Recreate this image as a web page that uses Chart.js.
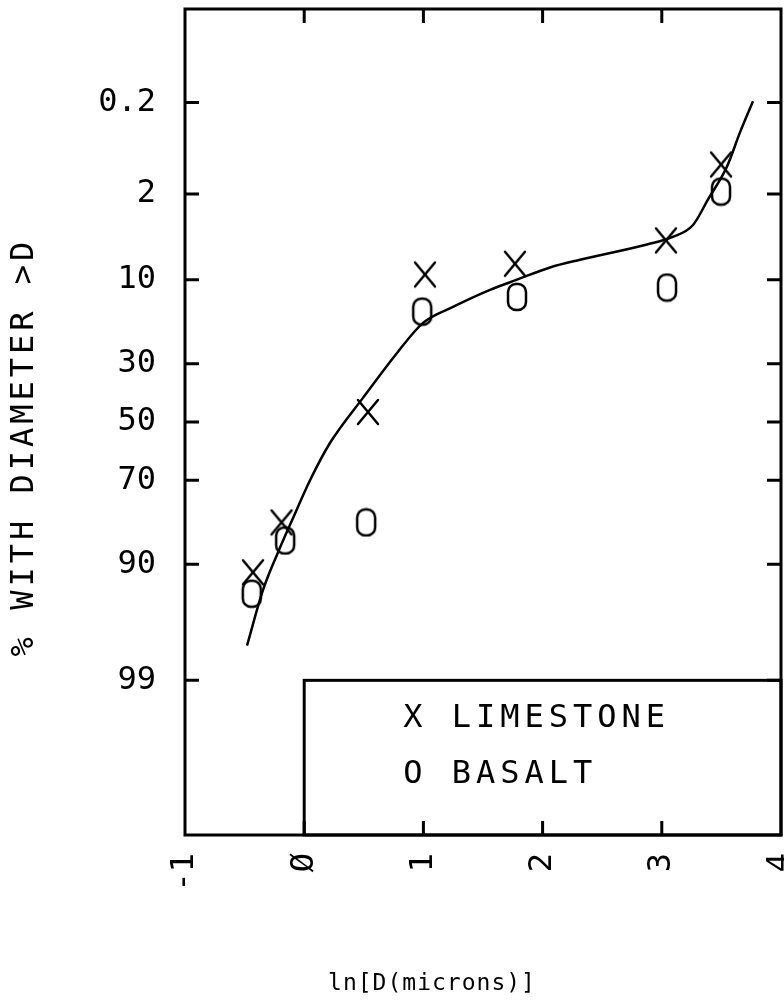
<!DOCTYPE html>
<html>
<head>
<meta charset="utf-8">
<script src="https://cdn.jsdelivr.net/npm/chart.js@4"></script>
<style>
  body { margin: 0; background: #fff; }
  #wrap { width: 784px; height: 1003px; }
</style>
</head>
<body>
<div id="wrap"><canvas id="chart" width="784" height="1003"></canvas></div>
<script>
// values: x = ln(D), y = % with diameter > D
var limeX = [-0.43, -0.19, 0.535, 1.013, 1.768, 3.035, 3.497];
var limeP = [91.2, 81.7, 46.4, 9.2, 7.7, 5.1, 1.02];
var basaltX = [-0.44, -0.16, 0.52, 0.99, 1.785, 3.044, 3.497];
var basaltP = [93.9, 85.7, 81.7, 16.0, 13.0, 11.3, 1.9];

// fitted curve
var curveX = [-0.48, -0.346, -0.22, -0.102, 0.049, 0.216, 0.493, 0.779, 0.997, 1.248, 1.559,
              1.785, 2.062, 2.314, 2.876, 3.086, 3.262, 3.388, 3.547, 3.656, 3.765];
var curveP = [97.8, 93.5, 88.0, 81.2, 70.0, 57.5, 41.4, 26.7, 18.6, 15.0, 11.7,
              10.0, 8.2, 7.2, 5.5, 4.8, 3.8, 2.25, 1.07, 0.455, 0.194];

var xTickVals = [-1, 0, 1, 2, 3, 4];
var xTickLabels = ["-1", "Ø", "1", "2", "3", "4"];
var yTickVals = [0.2, 2, 10, 30, 50, 70, 90, 99];
var yTickLabels = ["0.2", "2", "10", "30", "50", "70", "90", "99"];

var legendLabels = ["X LIMESTONE", "O BASALT"];
var xTitle = "ln[D(microns)]";
var yTitle = "% WITH DIAMETER >D";

var FONT = "'DejaVu Sans Mono', monospace";

// inverse normal cdf (probability axis)
function probit(p){
  var a = [-3.969683028665376e+01, 2.209460984245205e+02, -2.759285104469687e+02, 1.383577518672690e+02, -3.066479806614716e+01, 2.506628277459239e+00];
  var b = [-5.447609879822406e+01, 1.615858368580409e+02, -1.556989798598866e+02, 6.680131188771972e+01, -1.328068155288572e+01];
  var c = [-7.784894002430293e-03, -3.223964580411365e-01, -2.400758277161838e+00, -2.549732539343734e+00, 4.374664141464968e+00, 2.938163982698783e+00];
  var d = [7.784695709041462e-03, 3.224671290700398e-01, 2.445134137142996e+00, 3.754408661907416e+00];
  var pl = 0.02425, q, r;
  if(p < pl){
    q = Math.sqrt(-2*Math.log(p));
    return (((((c[0]*q+c[1])*q+c[2])*q+c[3])*q+c[4])*q+c[5]) / ((((d[0]*q+d[1])*q+d[2])*q+d[3])*q+1);
  }
  if(p <= 1-pl){
    q = p-0.5; r = q*q;
    return (((((a[0]*r+a[1])*r+a[2])*r+a[3])*r+a[4])*r+a[5])*q / (((((b[0]*r+b[1])*r+b[2])*r+b[3])*r+b[4])*r+1);
  }
  q = Math.sqrt(-2*Math.log(1-p));
  return -(((((c[0]*q+c[1])*q+c[2])*q+c[3])*q+c[4])*q+c[5]) / ((((d[0]*q+d[1])*q+d[2])*q+d[3])*q+1);
}

function pts(xs, ps){
  var out = [];
  for(var i in xs){
    out.push({x: xs[i], y: probit(ps[i]/100)});
  }
  return out;
}

function makeMarker(kind){
  var cv = document.createElement('canvas');
  cv.width = 28; cv.height = 30;
  var g = cv.getContext('2d');
  g.strokeStyle = '#000';
  g.lineWidth = 2.5;
  g.lineCap = 'round';
  g.beginPath();
  if(kind == 'X'){
    g.moveTo(4, 3); g.lineTo(24, 27);
    g.moveTo(24, 3); g.lineTo(4, 27);
  } else {
    g.roundRect(5, 2, 18, 26, 8);
  }
  g.stroke();
  return cv;
}

var framePlugin = {
  id: 'frame',
  beforeDraw: function(chart){
    var ctx = chart.ctx;
    ctx.save();
    ctx.fillStyle = '#fff';
    ctx.fillRect(0, 0, chart.width, chart.height);
    ctx.restore();
  },
  afterDatasetsDraw: function(chart){
    var ctx = chart.ctx, a = chart.chartArea;
    var x = chart.scales.x, y = chart.scales.y;
    ctx.save();
    ctx.strokeStyle = '#000';
    ctx.fillStyle = '#000';
    ctx.lineWidth = 3;

    // legend box sits at x = 0, top at 99 %
    var lx = x.getPixelForValue(0), ly = y.getPixelForValue(probit(0.99));
    ctx.fillStyle = '#fff';
    ctx.fillRect(lx, ly, a.right - lx, a.bottom - ly);
    ctx.strokeRect(lx, ly, a.right - lx, a.bottom - ly);

    ctx.strokeRect(a.left, a.top, a.right - a.left, a.bottom - a.top);

    var tl = 14;
    ctx.beginPath();
    yTickVals.forEach(function(v){
      var py = y.getPixelForValue(probit(v/100));
      ctx.moveTo(a.left, py); ctx.lineTo(a.left + tl, py);
      ctx.moveTo(a.right, py); ctx.lineTo(a.right - tl, py);
    });
    xTickVals.slice(1, -1).forEach(function(v){
      var px = x.getPixelForValue(v);
      ctx.moveTo(px, a.top); ctx.lineTo(px, a.top + tl);
      ctx.moveTo(px, a.bottom); ctx.lineTo(px, a.bottom - tl);
    });
    ctx.stroke();

    ctx.fillStyle = '#000';
    ctx.font = '32px ' + FONT;
    ctx.letterSpacing = '5px';
    ctx.textAlign = 'left';
    ctx.textBaseline = 'middle';
    ctx.fillText(legendLabels[0], lx + 99, ly + 38);
    ctx.fillText(legendLabels[1], lx + 99, ly + 94);

    // axis titles
    ctx.save();
    ctx.translate(25, 447);
    ctx.rotate(-Math.PI/2);
    ctx.textAlign = 'center';
    ctx.letterSpacing = '4px';
    ctx.fillText(yTitle, 0, 0);
    ctx.restore();

    ctx.font = '23px ' + FONT;
    ctx.letterSpacing = '1px';
    ctx.textAlign = 'center';
    ctx.fillText(xTitle, 432, 984);
    ctx.restore();
  }
};

var div_chart = document.getElementById('chart');

var line_chart = new Chart(div_chart, {
  type: 'scatter',
  data: {
    datasets: [{
      type: 'line',
      label: 'fit',
      data: pts(curveX, curveP),
      borderColor: '#000',
      borderWidth: 2.5,
      pointRadius: 0,
      cubicInterpolationMode: 'monotone',
      fill: false
    }, {
      label: 'LIMESTONE',
      data: pts(limeX, limeP),
      pointStyle: makeMarker('X'),
      pointRadius: 12
    }, {
      label: 'BASALT',
      data: pts(basaltX, basaltP),
      pointStyle: makeMarker('O'),
      pointRadius: 12
    }]
  },
  options: {
    responsive: false,
    animation: false,
    devicePixelRatio: 1,
    layout: { autoPadding: false, padding: { top: 9, right: 3, left: 0, bottom: 0 } },
    plugins: {
      legend: { display: false },
      tooltip: { enabled: false }
    },
    scales: {
      x: {
        type: 'linear',
        min: -1, max: 4,
        grid: { display: false },
        border: { display: false },
        afterFit: function(s){
          s.height = 168;
          s.paddingLeft = 0; s.paddingRight = 0;
        },
        afterBuildTicks: function(s){
          s.ticks = xTickVals.map(function(v){ return {value: v}; });
        },
        ticks: {
          autoSkip: false,
          minRotation: 90, maxRotation: 90,
          padding: 10,
          color: '#000',
          font: { family: FONT, size: 32 },
          callback: function(v, i){ return xTickLabels[i]; }
        }
      },
      y: {
        type: 'linear',
        reverse: true,
        min: probit(0.0001), max: probit(0.9999),
        grid: { display: false },
        border: { display: false },
        afterFit: function(s){
          s.width = 185;
          s.paddingTop = 0; s.paddingBottom = 0;
        },
        afterBuildTicks: function(s){
          s.ticks = yTickVals.map(function(v){ return {value: probit(v/100)}; });
        },
        ticks: {
          autoSkip: false,
          padding: 21,
          color: '#000',
          font: { family: FONT, size: 32 },
          callback: function(v, i){ return yTickLabels[i]; }
        }
      }
    }
  },
  plugins: [framePlugin]
});
</script>
</body>
</html>
